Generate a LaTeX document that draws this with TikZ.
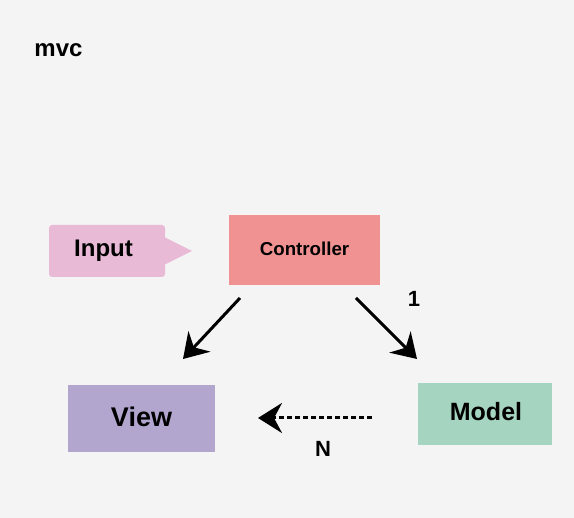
\documentclass[tikz,border=0pt]{standalone}
\usepackage{fontspec}
\setmainfont{Liberation Sans}
\usetikzlibrary{arrows.meta}
\definecolor{bg}{HTML}{F4F4F4}
\definecolor{ctrl}{HTML}{F09292}
\definecolor{inp}{HTML}{E9BAD6}
\definecolor{viewc}{HTML}{B2A6CF}
\definecolor{modelc}{HTML}{A5D5C0}
\begin{document}
\begin{tikzpicture}[x=1pt,y=-1pt,
  box/.style={anchor=center,inner sep=0pt,font=\bfseries},
  conn/.style={line width=3pt,-{Stealth[length=24pt,width=30pt,inset=8pt]}},
  lbl/.style={font=\bfseries\fontsize{22}{24}\selectfont}]
\fill[bg] (0,0) rectangle (574,518);
\useasboundingbox (0,0) rectangle (574,518);
% Input shape
\fill[inp,rounded corners=3pt] (49,225) rectangle (165,277);
\fill[inp] (164,237) -- (192,251) -- (164,265) -- cycle;
\node[box,font=\bfseries\fontsize{24}{26}\selectfont] (input) at (103.5,251) {Input};
% Controller
\fill[ctrl] (229,215) rectangle (380,285);
\node[box,font=\bfseries\fontsize{18.7}{20}\selectfont] (ctrl) at (304.5,249) {Controller};
% View
\fill[viewc] (68,385) rectangle (215,452);
\node[box,font=\bfseries\fontsize{27}{30}\selectfont] (view) at (141.5,417) {View};
% Model
\fill[modelc] (418,383) rectangle (552,445);
\node[box,font=\bfseries\fontsize{25}{28}\selectfont] (model) at (486,412) {Model};
% title
\node[lbl,font=\bfseries\fontsize{24}{26}\selectfont] (title) at (58.5,50) {mvc};
% connectors
\coordinate (a1s) at (240,298);
\coordinate (a1e) at (183,359);
\coordinate (a2s) at (356,298);
\coordinate (a2e) at (417,359);
\coordinate (a3s) at (372,418);
\coordinate (a3e) at (258,418);
\draw[conn] (a1s) -- (a1e);
\draw[conn] (a2s) -- (a2e);
\draw[conn,dash pattern=on 5pt off 3pt,line width=3pt] (a3s) -- (a3e);
\node[lbl] (one) at (414,299) {1};
\node[lbl] (n) at (323,449) {N};
\end{tikzpicture}
\end{document}
